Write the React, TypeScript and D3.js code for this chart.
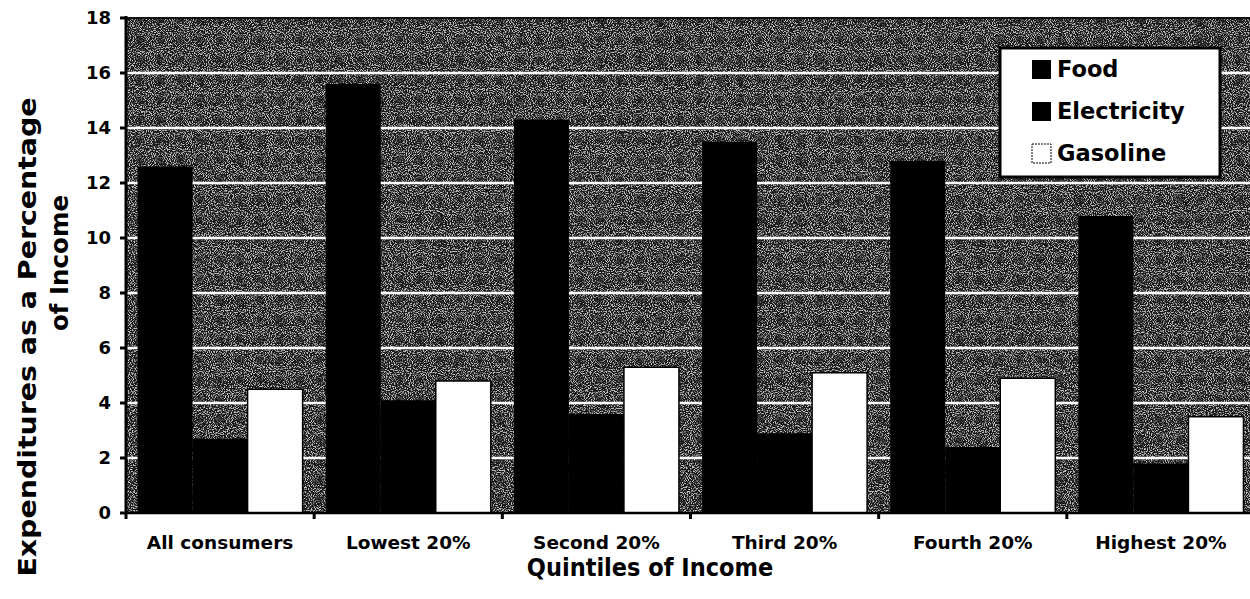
import React from "react";
import * as d3 from "d3";

// Household expenditures as a share of income, by income quintile
const categories = [
  "All consumers",
  "Lowest 20%",
  "Second 20%",
  "Third 20%",
  "Fourth 20%",
  "Highest 20%",
];
const seriesNames = ["Food", "Electricity", "Gasoline"];
const food = [12.6, 15.6, 14.3, 13.5, 12.8, 10.8];
const electricity = [2.7, 4.1, 3.6, 2.9, 2.4, 1.8];
const gasoline = [4.5, 4.8, 5.3, 5.1, 4.9, 3.5];
const yTicks = [0, 2, 4, 6, 8, 10, 12, 14, 16, 18];

const seriesValues = [food, electricity, gasoline];
const seriesFill = ["#000000", "#000000", "#ffffff"];

const W = 1250;
const H = 599;
const plot = { left: 126, right: 1255, top: 18, bottom: 513 };
const FONT = "'DejaVu Sans', Verdana, sans-serif";
const FONT_NARROW = "'DejaVu Sans Condensed', 'DejaVu Sans', sans-serif";

export default function App() {
  const x0 = d3
    .scaleBand<string>()
    .domain(categories)
    .range([plot.left, plot.right])
    .paddingInner(0)
    .paddingOuter(0);
  const x1 = d3
    .scaleBand<string>()
    .domain(seriesNames)
    .range([0, x0.bandwidth()])
    .paddingInner(0)
    .paddingOuter(0.21);
  const y = d3.scaleLinear().domain([0, 18]).range([plot.bottom, plot.top]);

  const boundaries = d3.range(categories.length + 1).map(
    (i) => plot.left + i * x0.step()
  );

  return (
    <svg
      width={W}
      height={H}
      style={{ position: "absolute", left: 0, top: 0, background: "#fff" }}
    >
      <defs>
        <filter id="grain" x="0" y="0" width="100%" height="100%">
          <feTurbulence
            type="fractalNoise"
            baseFrequency="0.95"
            numOctaves="1"
            seed="7"
            result="noise"
          />
          <feColorMatrix
            in="noise"
            type="matrix"
            values="0 0 0 0 1  0 0 0 0 1  0 0 0 0 1  7 0 0 0 -3.4"
          />
        </filter>
        <clipPath id="plotClip">
          <rect
            x={plot.left}
            y={plot.top}
            width={plot.right - plot.left}
            height={plot.bottom - plot.top}
          />
        </clipPath>
      </defs>

      {/* plot background: dark speckled fill */}
      <rect
        x={plot.left}
        y={plot.top}
        width={plot.right - plot.left}
        height={plot.bottom - plot.top}
        fill="#1a1a1a"
      />
      <rect
        x={plot.left}
        y={plot.top}
        width={plot.right - plot.left}
        height={plot.bottom - plot.top}
        fill="#fff"
        filter="url(#grain)"
        opacity={0.7}
      />

      {/* horizontal gridlines */}
      {yTicks
        .filter((t) => t > 0 && t < 18)
        .map((t) => (
          <line
            key={"g" + t}
            x1={plot.left}
            x2={plot.right}
            y1={y(t)}
            y2={y(t)}
            stroke="#ffffff"
            strokeWidth={2.5}
          />
        ))}

      {/* bars */}
      <g clipPath="url(#plotClip)">
        {categories.map((c, ci) => (
          <g key={c} transform={`translate(${x0(c)},0)`}>
            {seriesNames.map((s, si) => {
              const v = seriesValues[si][ci];
              return (
                <rect
                  key={s}
                  x={x1(s)}
                  y={y(v)}
                  width={x1.bandwidth()}
                  height={y(0) - y(v)}
                  fill={seriesFill[si]}
                  stroke="#000"
                  strokeWidth={si === 2 ? 1.5 : 0}
                />
              );
            })}
          </g>
        ))}
      </g>

      {/* top edge of plot */}
      <line
        x1={plot.left}
        x2={plot.right}
        y1={plot.top}
        y2={plot.top}
        stroke="#111"
        strokeWidth={2}
      />

      {/* y axis */}
      <line
        x1={plot.left}
        x2={plot.left}
        y1={plot.top - 2}
        y2={plot.bottom + 1}
        stroke="#000"
        strokeWidth={3}
      />
      {yTicks.map((t) => (
        <g key={"yt" + t}>
          <line
            x1={plot.left - 6}
            x2={plot.left}
            y1={y(t)}
            y2={y(t)}
            stroke="#000"
            strokeWidth={3}
          />
          <text
            x={plot.left - 15}
            y={y(t)}
            dy="0.36em"
            textAnchor="end"
            fontFamily={FONT}
            fontWeight="bold"
            fontSize={18}
            fill="#000"
          >
            {t}
          </text>
        </g>
      ))}

      {/* x axis */}
      <line
        x1={plot.left}
        x2={plot.right}
        y1={plot.bottom}
        y2={plot.bottom}
        stroke="#000"
        strokeWidth={2.5}
      />
      {boundaries.map((b, i) => (
        <line
          key={"xt" + i}
          x1={b}
          x2={b}
          y1={plot.bottom}
          y2={plot.bottom + 6}
          stroke="#000"
          strokeWidth={3}
        />
      ))}
      {categories.map((c) => (
        <text
          key={"xl" + c}
          x={(x0(c) ?? 0) + x0.bandwidth() / 2}
          y={542}
          dy="0.36em"
          textAnchor="middle"
          fontFamily={FONT}
          fontWeight="bold"
          fontSize={18.5}
          fill="#000"
        >
          {c}
        </text>
      ))}

      {/* axis titles */}
      <text
        x={650}
        y={567}
        dy="0.36em"
        textAnchor="middle"
        fontFamily={FONT_NARROW}
        fontWeight="bold"
        fontSize={25}
        fill="#000"
      >
        Quintiles of Income
      </text>
      <text
        transform="translate(27,337) rotate(-90) scale(1.16,1)"
        dy="0.36em"
        textAnchor="middle"
        fontFamily={FONT}
        fontWeight="bold"
        fontSize={24.5}
        fill="#000"
      >
        Expenditures as a Percentage
      </text>
      <text
        transform="translate(59,263) rotate(-90)"
        dy="0.36em"
        textAnchor="middle"
        fontFamily={FONT}
        fontWeight="bold"
        fontSize={24.5}
        fill="#000"
      >
        of Income
      </text>

      {/* legend */}
      <g>
        <rect
          x={1000}
          y={48}
          width={220}
          height={129}
          fill="#fff"
          stroke="#000"
          strokeWidth={3}
        />
        {seriesNames.map((s, i) => {
          const cy = 69 + i * 42;
          return (
            <g key={"lg" + s}>
              <rect
                x={1032}
                y={cy - 9}
                width={19}
                height={19}
                fill={seriesFill[i]}
                stroke="#000"
                strokeWidth={i === 2 ? 1 : 0}
                strokeDasharray={i === 2 ? "2,1" : undefined}
              />
              <text
                x={1057}
                y={cy}
                dy="0.36em"
                fontFamily={FONT}
                fontWeight="bold"
                fontSize={22.5}
                fill="#000"
              >
                {s}
              </text>
            </g>
          );
        })}
      </g>
    </svg>
  );
}
